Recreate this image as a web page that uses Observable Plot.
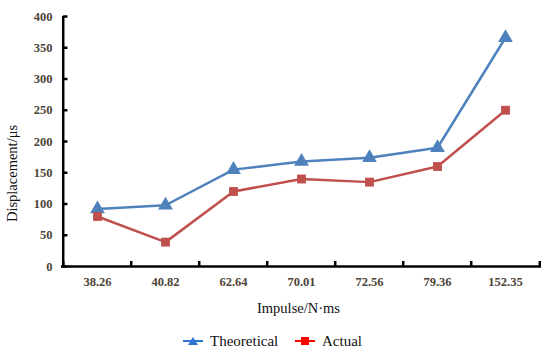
<!DOCTYPE html>
<html>
<head>
<meta charset="utf-8">
<script src="https://cdn.jsdelivr.net/npm/d3@7"></script>
<script src="https://cdn.jsdelivr.net/npm/@observablehq/plot@0.6"></script>
<style>
  body { margin: 0; background: #fff; }
  #wrap { width: 550px; height: 355px; position: relative; font-family: "Liberation Serif", "Times New Roman", serif; }
  #legend { position: absolute; left: 0; top: 331px; width: 550px; height: 20px; font-size: 15px; color: #111; font-family: "Liberation Serif", serif; }
  .item { position: absolute; top: 0; display: flex; align-items: center; height: 20px; }
  .item svg { margin-right: 7px; }
</style>
</head>
<body>
<div id="wrap"><div id="chart"></div><div id="legend"></div></div>
<script>
const categories = ["38.26", "40.82", "62.64", "70.01", "72.56", "79.36", "152.35"];
const theoretical = [92, 98, 155, 168, 174, 190, 366];
const actual = [80, 39, 120, 140, 135, 160, 250];
const yTicks = [0, 50, 100, 150, 200, 250, 300, 350, 400];
const seriesNames = ["Theoretical", "Actual"];

const blue = "#4F81BD", red = "#C0504D";
const tData = categories.map((c, i) => ({x: c, y: theoretical[i]}));
const aData = categories.map((c, i) => ({x: c, y: actual[i]}));
const W = 550, H = 322, mL = 61, mR = 9, mT = 16, mB = 56;
const half = (W - mL - mR) / categories.length / 2;
const tickColor = "#4d4338";
const serif = "'Liberation Serif', 'Times New Roman', serif";

const plot = Plot.plot({
  width: W, height: H,
  marginLeft: mL, marginRight: mR, marginTop: mT, marginBottom: mB,
  style: {fontFamily: serif, background: "#fff"},
  x: {type: "band", domain: categories, padding: 0},
  y: {domain: [0, 400]},
  marks: [
    Plot.axisX({tickSize: 0, tickPadding: 11, fontSize: 12.5, fontWeight: "bold", fill: tickColor, label: null, fontFamily: serif}),
    Plot.text(["Impulse/N·ms"], {frameAnchor: "bottom", lineAnchor: "middle", dy: 42, dx: -3, fontSize: 14.5, fill: "#111", fontFamily: serif}),
    Plot.axisY({ticks: yTicks, tickSize: 0, tickPadding: 9, fontSize: 12.5, fontWeight: "bold", fill: tickColor, label: null, fontFamily: serif}),
    Plot.text(["Displacement/μs"], {frameAnchor: "left", textAnchor: "middle", lineAnchor: "middle", rotate: -90, dx: -49, dy: 32, fontSize: 14.5, fill: "#111", fontFamily: serif}),
    // inward y ticks
    Plot.tickY(yTicks, {x: () => categories[0], y: d => d, insetRight: 2 * half - 5, stroke: "#000", strokeWidth: 2.5}),
    Plot.ruleX([categories[0]], {dx: -half, y1: 0, y2: 400, stroke: "#000", strokeWidth: 2.5}),
    Plot.ruleY([0], {stroke: "#000", strokeWidth: 2.5}),
    Plot.ruleX(categories, {dx: -half, y1: 0, y2: 8, stroke: "#000", strokeWidth: 2.5}),
    Plot.ruleX([categories[categories.length - 1]], {dx: half, y1: 0, y2: 8, stroke: "#000", strokeWidth: 2.5}),
    Plot.line(tData, {x: "x", y: "y", stroke: blue, strokeWidth: 2.5}),
    Plot.line(aData, {x: "x", y: "y", stroke: red, strokeWidth: 2.5}),
    Plot.dot(tData, {x: "x", y: "y", symbol: "triangle", r: 5.5, fill: blue, stroke: "none"}),
    Plot.dot(aData, {x: "x", y: "y", symbol: "square", r: 5, fill: red, stroke: "none"})
  ]
});
document.getElementById("chart").appendChild(plot);

const leg = document.getElementById("legend");
const lx = [183, 295];
const lcol = ["#2E75D0", "#FF0000"];
const sym = ['<path d="M10,2 L15,10 L5,10 Z" fill="#2E75D0"/>', '<rect x="6" y="2" width="8" height="8" fill="#FF0000"/>'];
seriesNames.forEach((n, i) => {
  const d = document.createElement("div");
  d.className = "item";
  d.style.left = lx[i] + "px";
  d.innerHTML = `<svg width="20" height="12"><line x1="0" x2="20" y1="6" y2="6" stroke="${lcol[i]}" stroke-width="2"/>${sym[i]}</svg><span>${n}</span>`;
  leg.appendChild(d);
});
</script>
</body>
</html>
